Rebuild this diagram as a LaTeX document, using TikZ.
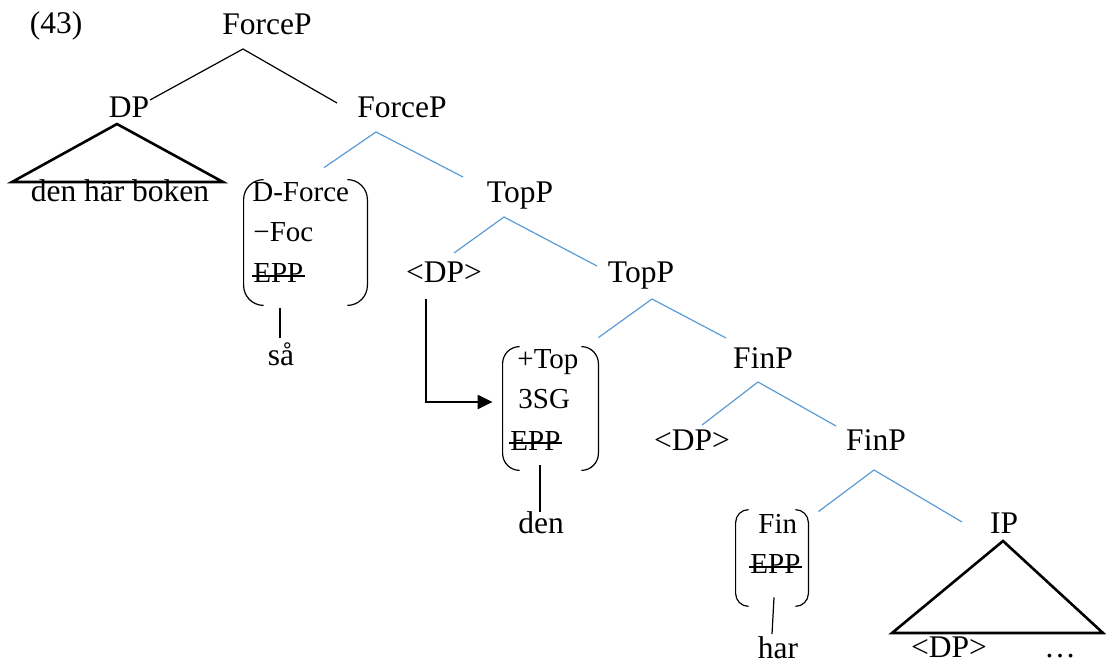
\documentclass[tikz,border=0pt]{standalone}
\usepackage{fontspec}
\setmainfont{Liberation Serif}
\usetikzlibrary{arrows.meta, calc}
\definecolor{branchcol}{RGB}{91, 155, 213}

\begin{document}
\begin{tikzpicture}[
    x=0.5pt, y=-0.5pt,
    every node/.style = {font=\fontsize{15.75}{20}\selectfont},
    word/.style = {inner sep=0pt, anchor=base},
    feat/.style = {inner sep=0pt, anchor=base west, font=\fontsize{14.5}{20}\selectfont},
    frame/.style = {rectangle, inner sep=0pt, draw=none},
    branch/.style = {line width=0.6pt, line join=miter},
    bluebranch/.style = {branch, draw=branchcol},
    roof/.style = {line width=1.3pt, line join=miter},
    brk/.style = {line width=0.6pt},
    stem/.style = {line width=0.6pt},
    strike/.style = {line width=0.7pt},
    move/.style = {line width=1.1pt, ->, >={Triangle[length=7.5pt, width=7pt]}}
]
    \useasboundingbox (0,0) rectangle (1106,662);

    % LABEL
    \node[word] (exnum) at (56,34) {(43)};

    % FORCEP
    \node[word] (forceA) at (267,35) {ForceP};
    \node[word] (dpA) at (129,118) {DP};
    \node[word] (forceB) at (402,118) {ForceP};
    \node[word] (boken) at (120,202) {den här boken};

    \node[frame, minimum width=61.5pt, minimum height=62.5pt] (fA) at (305.5,242.5) {};
    \node[feat] (fA1) at (252,202) {D-Force};
    \node[feat] (fA2) at (253,242) {−Foc};
    \node[feat] (fA3) at (253,283) {EPP};
    \node[word] (sa) at (281,365) {så};

    % TOPP
    \node[word] (topA) at (520,203) {TopP};
    \node[word] (dpB) at (444,283) {<DP>};
    \node[word] (topB) at (641,283) {TopP};

    \node[frame, minimum width=47.5pt, minimum height=61.5pt] (fB) at (550.5,408.5) {};
    \node[feat] (fB1) at (517,368) {+Top};
    \node[feat] (fB2) at (518,408) {3SG};
    \node[feat] (fB3) at (510,450) {EPP};
    \node[word] (den) at (541,533) {den};

    % FINP
    \node[word] (finA) at (763,368) {FinP};
    \node[word] (dpC) at (692,450) {<DP>};
    \node[word] (finB) at (876,450) {FinP};

    \node[frame, minimum width=36pt, minimum height=48pt] (fC) at (772,558) {};
    \node[feat] (fC1) at (758,533) {Fin};
    \node[feat] (fC2) at (750,573) {EPP};
    \node[word] (har) at (778,658) {har};

    % IP
    \node[word] (ip) at (1004,533) {IP};
    \node[word] (dpD) at (949,657) {<DP>};
    \node[word] (dots) at (1060,657) {…};

    % BRANCHES
    \draw[branch] ($(dpA.base)+(21,-18)$) -- ($(forceA.base)+(-24,14)$) -- ($(forceB.base)+(-65,-15)$);
    \draw[bluebranch] ($(fA.north)+(18.5,-12)$) -- ($(forceB.base)+(-26,14)$) -- ($(topA.base)+(-57,-26)$);
    \draw[bluebranch] ($(dpB.base)+(10,-30)$) -- ($(topA.base)+(-16,14)$) -- ($(topB.base)+(-44,-17)$);
    \draw[bluebranch] ($(fB.north east)+(0,-9)$) -- ($(topB.base)+(11,16)$) -- ($(finA.base)+(-37,-30)$);
    \draw[bluebranch] ($(dpC.base)+(10,-25)$) -- ($(finA.base)+(-5,14)$) -- ($(finB.base)+(-40,-24)$);
    \draw[bluebranch] ($(fC.north east)+(10,2)$) -- ($(finB.base)+(-2,20)$) -- ($(ip.base)+(-42,-11)$);

    % Triangles
    \draw[roof] ($(dpA.base)+(-12,6)$) -- ($(boken.base)+(-108,-20)$) -- ($(boken.base)+(103,-20)$) -- cycle;
    \draw[roof] ($(ip.base)+(-1,8)$) -- ($(dpD.base)+(-57,-24)$) -- ($(dpD.base)+(154,-24)$) -- cycle;

    % Feature brackets
    \draw[brk, rounded corners=10pt] ($(fA.north west)+(20,0)$) -- (fA.north west) -- (fA.south west) -- ($(fA.south west)+(20,0)$);
    \draw[brk, rounded corners=10pt] ($(fA.north east)+(-20,0)$) -- (fA.north east) -- (fA.south east) -- ($(fA.south east)+(-20,0)$);
    \draw[brk, rounded corners=8.5pt] ($(fB.north west)+(17,0)$) -- (fB.north west) -- (fB.south west) -- ($(fB.south west)+(17,0)$);
    \draw[brk, rounded corners=8.5pt] ($(fB.north east)+(-17,0)$) -- (fB.north east) -- (fB.south east) -- ($(fB.south east)+(-17,0)$);
    \draw[brk, rounded corners=6.5pt] ($(fC.north west)+(13,0)$) -- (fC.north west) -- (fC.south west) -- ($(fC.south west)+(13,0)$);
    \draw[brk, rounded corners=6.5pt] ($(fC.north east)+(-13,0)$) -- (fC.north east) -- (fC.south east) -- ($(fC.south east)+(-13,0)$);

    % Struck EPP
    \draw[strike] ($(fA3.base west)+(-1,-7)$) -- ($(fA3.base east)+(1,-7)$);
    \draw[strike] ($(fB3.base west)+(-1,-7)$) -- ($(fB3.base east)+(1,-7)$);
    \draw[strike] ($(fC2.base west)+(-1,-6)$) -- ($(fC2.base east)+(1,-6)$);

    % Heads to words
    \draw[stem] ($(fA.south)+(-25.5,3)$) -- ($(sa.base)+(-1,-27)$);
    \draw[stem] ($(fB.south)+(-10.5,-5)$) -- ($(den.base)+(-1,-21)$);
    \draw[stem] ($(fC.south)+(2,-9)$) -- ($(har.base)+(-6,-24)$);

    % Movement
    \draw[move] ($(dpB.base)+(-18,16)$) |- ($(fB.west)+(-10,-6.5)$);

\end{tikzpicture}
\end{document}
